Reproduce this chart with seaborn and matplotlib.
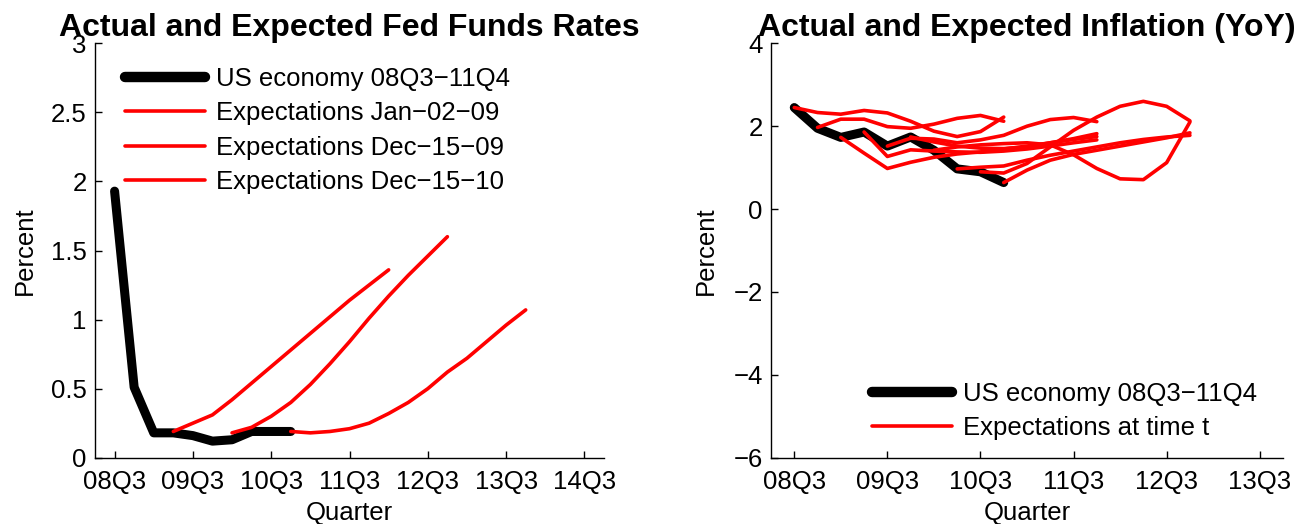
import matplotlib
matplotlib.use("Agg")
import matplotlib.pyplot as plt
from matplotlib.lines import Line2D
import pandas as pd
import seaborn as sns

# ---------------- data ----------------
# quarter index 0 = 08Q3
ffr_ticks = [0, 4, 8, 12, 16, 20, 24]
ffr_tick_labels = ["08Q3", "09Q3", "10Q3", "11Q3", "12Q3", "13Q3", "14Q3"]
ffr_yticks = [0, 0.5, 1, 1.5, 2, 2.5, 3]
ffr_ytick_labels = ["0", "0.5", "1", "1.5", "2", "2.5", "3"]

inf_ticks = [0, 4, 8, 12, 16, 20]
inf_tick_labels = ["08Q3", "09Q3", "10Q3", "11Q3", "12Q3", "13Q3"]
inf_yticks = [-6, -4, -2, 0, 2, 4]
inf_ytick_labels = ["\u22126", "\u22124", "\u22122", "0", "2", "4"]

# Fed funds rate (percent)
ffr_actual = [1.93, 0.51, 0.18, 0.18, 0.16, 0.12, 0.13, 0.19, 0.19, 0.19]
ffr_exp_names = ["Expectations Jan\u221202\u221209",
                 "Expectations Dec\u221215\u221209",
                 "Expectations Dec\u221215\u221210"]
ffr_exp_start = [3, 6, 9]
ffr_exp_jan09 = [0.19, 0.25, 0.31, 0.42, 0.54, 0.66, 0.78, 0.90, 1.02, 1.14, 1.25, 1.36]
ffr_exp_dec09 = [0.18, 0.22, 0.30, 0.40, 0.53, 0.68, 0.84, 1.01, 1.17, 1.32, 1.46, 1.60]
ffr_exp_dec10 = [0.19, 0.18, 0.19, 0.21, 0.25, 0.32, 0.40, 0.50, 0.62, 0.72, 0.84, 0.96, 1.07]

# Inflation, year over year (percent)
inf_actual = [2.45, 1.95, 1.73, 1.86, 1.52, 1.74, 1.42, 0.97, 0.90, 0.64]
inf_exp_start = [0, 1, 2, 3, 4, 5, 6, 7, 8, 9]
inf_exp_t0 = [2.45, 2.33, 2.29, 2.38, 2.32, 2.12, 1.88, 1.75, 1.87, 2.22]
inf_exp_t1 = [1.97, 2.17, 2.17, 1.99, 1.95, 2.05, 2.19, 2.26, 2.12]
inf_exp_t2 = [1.73, 1.35, 0.98, 1.13, 1.25, 1.33, 1.38, 1.45, 1.52, 1.60, 1.68, 1.75]
inf_exp_t3 = [1.86, 1.27, 1.43, 1.40, 1.38, 1.37, 1.40, 1.45, 1.52, 1.60, 1.67]
inf_exp_t4 = [1.52, 1.71, 1.69, 1.60, 1.67, 1.78, 2.00, 2.16, 2.21, 2.11]
inf_exp_t5 = [1.74, 1.62, 1.52, 1.47, 1.46, 1.50, 1.60, 1.70, 1.82]
inf_exp_t6 = [1.42, 1.50, 1.55, 1.58, 1.60, 1.55, 1.31, 0.98, 0.73, 0.71, 1.12, 2.10]
inf_exp_t7 = [0.97, 1.01, 1.04, 1.18, 1.30, 1.40, 1.50, 1.60, 1.68, 1.74, 1.78]
inf_exp_t8 = [0.90, 0.87, 1.10, 1.50, 1.90, 2.22, 2.48, 2.60, 2.48, 2.13]
inf_exp_t9 = [0.64, 0.94, 1.18, 1.32, 1.42, 1.52, 1.62, 1.72, 1.84]

# ---------------- style ----------------
sns.set_style("ticks")
plt.rcParams["font.family"] = ["Liberation Sans", "DejaVu Sans"]
plt.rcParams["axes.unicode_minus"] = True
plt.rcParams["text.color"] = "black"
plt.rcParams["axes.labelcolor"] = "black"
plt.rcParams["axes.titlecolor"] = "black"

FS = 18.5
TITLE_FS = 23
BLACK_LW = 6.5
RED_LW = 2.6
RED = "#ff0000"


def series_frame(start, values, name):
    return pd.DataFrame({"quarter": list(range(start, start + len(values))),
                         "value": values, "series": name})


def style_axes(ax, xlim, ylim, xticks, xlabels, yticks, ylabels):
    ax.set_xlim(*xlim)
    ax.set_ylim(*ylim)
    ax.set_xticks(xticks)
    ax.set_xticklabels(xlabels)
    ax.set_yticks(yticks)
    ax.set_yticklabels(ylabels)
    for s in ("top", "right"):
        ax.spines[s].set_visible(False)
    for s in ("left", "bottom"):
        ax.spines[s].set_linewidth(1.0)
        ax.spines[s].set_color("black")
    ax.tick_params(axis="both", direction="in", length=5, width=1.0,
                   labelsize=FS, colors="black")
    ax.tick_params(axis="x", pad=9)
    ax.tick_params(axis="y", pad=6)
    ax.set_xlabel("Quarter", fontsize=FS, color="black")
    ax.set_ylabel("Percent", fontsize=FS, color="black")


fig = plt.figure(figsize=(13.03, 5.24), dpi=100)
ax1 = fig.add_axes([95 / 1303, 0.1265, 509 / 1303, 0.7908])
ax2 = fig.add_axes([771 / 1303, 0.1265, 512 / 1303, 0.7908])

# ---------------- Fed funds panel ----------------
ffr_df = series_frame(0, ffr_actual, "actual")
sns.lineplot(data=ffr_df, x="quarter", y="value", color="black",
             linewidth=BLACK_LW, ax=ax1, legend=False)
for start, vals, name in zip(ffr_exp_start,
                             [ffr_exp_jan09, ffr_exp_dec09, ffr_exp_dec10],
                             ffr_exp_names):
    sns.lineplot(data=series_frame(start, vals, name), x="quarter", y="value",
                 color=RED, linewidth=RED_LW, ax=ax1, legend=False)

style_axes(ax1, (-1, 25), (0, 3), ffr_ticks, ffr_tick_labels,
           ffr_yticks, ffr_ytick_labels)
ax1.set_title("Actual and Expected Fed Funds Rates", fontsize=TITLE_FS,
              fontweight="bold", pad=-5, color="black")

legend_kw = dict(bbox_transform=fig.transFigure, frameon=False, fontsize=FS,
                 handlelength=3.1, handletextpad=0.45, labelspacing=0.4,
                 borderpad=0, borderaxespad=0, labelcolor="black")

h1 = [Line2D([], [], color="black", linewidth=BLACK_LW + 1)] + \
     [Line2D([], [], color=RED, linewidth=RED_LW) for _ in ffr_exp_names]
ax1.legend(h1, ["US economy 08Q3\u221211Q4"] + ffr_exp_names,
           loc="upper left", bbox_to_anchor=(125 / 1303, 1 - 67 / 524),
           **legend_kw)

# ---------------- inflation panel ----------------
inf_df = series_frame(0, inf_actual, "actual")
sns.lineplot(data=inf_df, x="quarter", y="value", color="black",
             linewidth=BLACK_LW, ax=ax2, legend=False)
inf_exp_all = [inf_exp_t0, inf_exp_t1, inf_exp_t2, inf_exp_t3, inf_exp_t4,
               inf_exp_t5, inf_exp_t6, inf_exp_t7, inf_exp_t8, inf_exp_t9]
for start, vals in zip(inf_exp_start, inf_exp_all):
    sns.lineplot(data=series_frame(start, vals, f"t{start}"), x="quarter",
                 y="value", color=RED, linewidth=RED_LW, ax=ax2, legend=False)

style_axes(ax2, (-1, 21), (-6, 4), inf_ticks, inf_tick_labels,
           inf_yticks, inf_ytick_labels)
ax2.set_title("Actual and Expected Inflation (YoY)", fontsize=TITLE_FS,
              fontweight="bold", pad=-5, color="black")

h2 = [Line2D([], [], color="black", linewidth=BLACK_LW + 1),
      Line2D([], [], color=RED, linewidth=RED_LW)]
ax2.legend(h2, ["US economy 08Q3\u221211Q4", "Expectations at time t"],
           loc="lower left", bbox_to_anchor=(872 / 1303, 1 - 440 / 524),
           **legend_kw)

ax1.yaxis.set_label_coords(-0.115, 0.5)
ax2.yaxis.set_label_coords(-0.104, 0.5)
ax1.xaxis.set_label_coords(0.5, -0.105)
ax2.xaxis.set_label_coords(0.5, -0.105)

fig.savefig("out.png", dpi=100)
